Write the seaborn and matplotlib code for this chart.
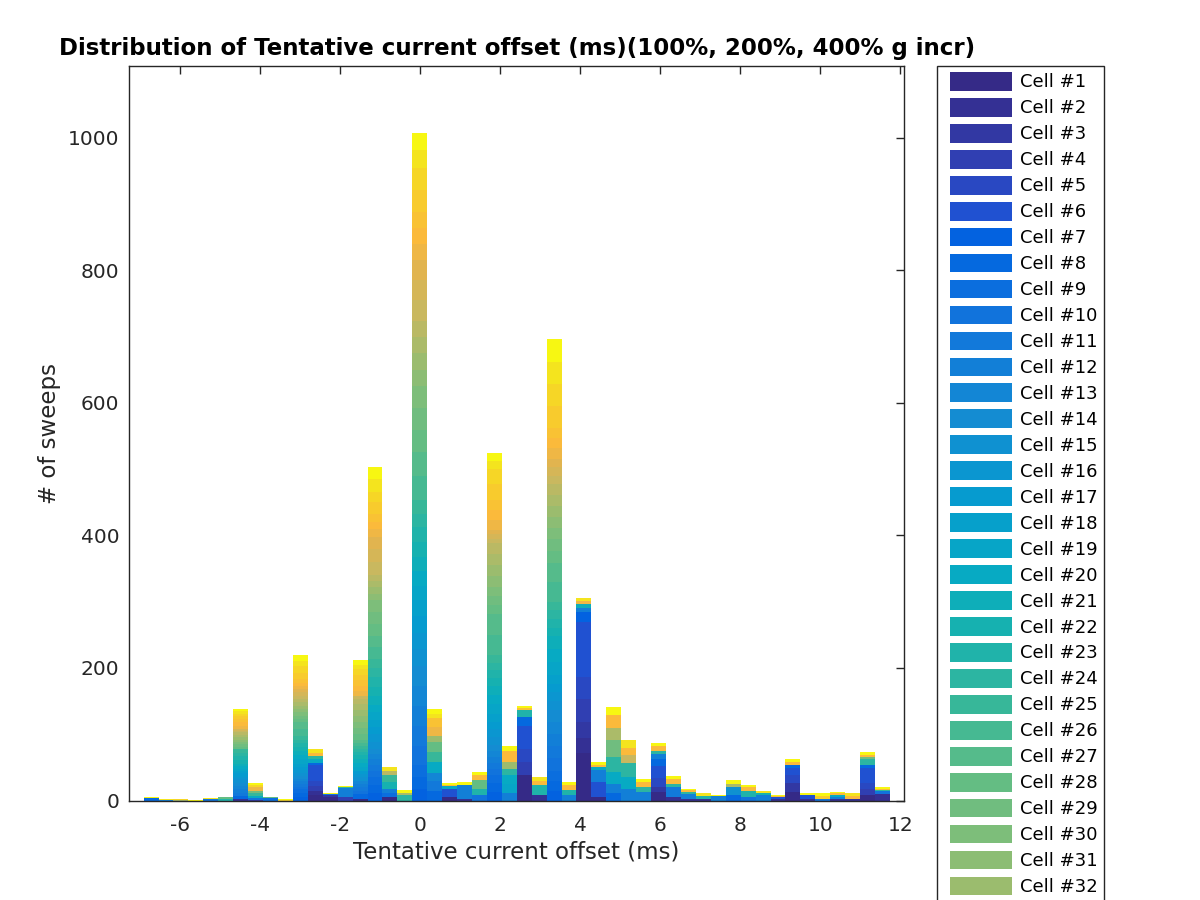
# Stacked histogram of tentative current offsets, one colour per cell
import numpy as np
import pandas as pd
import matplotlib
matplotlib.use("Agg")
import matplotlib.pyplot as plt
from matplotlib.colors import LinearSegmentedColormap
from matplotlib.patches import Patch, Rectangle
import seaborn as sns

n_cells = 44
n_legend = 32          # entries that fit inside the figure
bin_width = 0.3731
first_edge = -6.9166

bin_centers = [-6.730, -6.357, -5.984, -5.611, -5.238, -4.864, -4.491, -4.118, -3.745, -3.372,
               -2.999, -2.626, -2.253, -1.880, -1.507, -1.133, -0.760, -0.387, -0.014, 0.359,
               0.732, 1.105, 1.478, 1.851, 2.224, 2.598, 2.971, 3.344, 3.717, 4.090,
               4.463, 4.836, 5.209, 5.582, 5.955, 6.329, 6.702, 7.075, 7.448, 7.821,
               8.194, 8.567, 8.940, 9.313, 9.686, 10.060, 10.433, 10.806, 11.179, 11.552]

# sweeps per cell in each bin, {cell number: count}
cell_counts = [
    {8: 4, 44: 1},
    {12: 1, 43: 1},
    {33: 1, 42: 1},
    {44: 1},
    {10: 3, 43: 1},
    {23: 3, 28: 2, 44: 1},
    {2: 3, 8: 4, 11: 5, 12: 5, 13: 5, 14: 5, 15: 5, 16: 4, 17: 5, 18: 4, 19: 3, 20: 4, 21: 3,
     22: 6, 23: 6, 24: 5, 25: 6, 28: 3, 29: 4, 30: 3, 31: 4, 32: 4, 33: 3, 34: 4, 35: 2, 36: 3,
     38: 5, 39: 5, 40: 5, 41: 4, 42: 4, 43: 4, 44: 3},
    {3: 1, 10: 3, 20: 3, 25: 4, 29: 3, 38: 6, 42: 4, 44: 3},
    {9: 4, 28: 1, 44: 1},
    {42: 1, 44: 1},
    {7: 6, 8: 5, 9: 6, 10: 4, 11: 4, 12: 4, 13: 4, 14: 4, 15: 5, 16: 4, 17: 5, 18: 4, 19: 7,
     20: 7, 21: 6, 22: 6, 23: 6, 24: 5, 25: 6, 26: 10, 27: 10, 28: 5, 29: 5, 30: 5, 31: 5,
     32: 5, 33: 5, 34: 5, 35: 5, 36: 5, 37: 5, 38: 5, 39: 5, 40: 5, 41: 10, 42: 10, 43: 8, 44: 8},
    {1: 8, 2: 6, 4: 8, 5: 7, 6: 25, 8: 3, 20: 5, 24: 5, 39: 5, 43: 5},
    {1: 5, 3: 4, 10: 1, 44: 2},
    {4: 5, 12: 14, 24: 2, 44: 1},
    {1: 2, 8: 8, 10: 5, 11: 5, 12: 5, 13: 5, 15: 5, 16: 5, 17: 5, 19: 6, 20: 6, 21: 6, 22: 5,
     23: 5, 24: 5, 25: 4, 26: 5, 27: 5, 28: 9, 29: 9, 30: 8, 31: 9, 32: 9, 33: 9, 34: 8, 35: 4,
     38: 8, 39: 8, 40: 9, 41: 8, 42: 8, 43: 7, 44: 7},
    {7: 12, 8: 12, 9: 11, 10: 9, 11: 9, 12: 9, 13: 8, 14: 8, 15: 11, 16: 11, 17: 11, 18: 11,
     19: 11, 20: 11, 21: 14, 22: 14, 23: 14, 24: 14, 25: 13, 26: 18, 27: 18, 28: 18, 29: 18,
     30: 17, 31: 10, 32: 10, 33: 10, 34: 9, 35: 19, 36: 19, 37: 18, 38: 12, 39: 12, 40: 12,
     41: 17, 42: 16, 43: 19, 44: 18},
    {1: 5, 9: 7, 12: 6, 22: 10, 25: 10, 34: 6, 43: 6},
    {24: 8, 33: 3, 44: 5},
    {7: 18, 8: 18, 9: 17, 10: 30, 11: 30, 12: 30, 13: 30, 14: 30, 15: 25, 16: 25, 17: 25,
     18: 24, 19: 22, 20: 22, 21: 22, 22: 22, 23: 22, 24: 21, 25: 21, 26: 36, 27: 36, 28: 33,
     29: 33, 30: 33, 31: 25, 32: 25, 33: 25, 34: 24, 35: 31, 36: 31, 37: 30, 38: 24, 39: 24,
     40: 24, 41: 33, 42: 33, 43: 27, 44: 27},
    {8: 15, 11: 14, 13: 13, 20: 16, 25: 15, 28: 15, 32: 10, 38: 13, 40: 13, 43: 7, 44: 7},
    {1: 5, 6: 13, 20: 4, 39: 2, 44: 2},
    {2: 3, 12: 20, 44: 5},
    {10: 8, 23: 10, 28: 13, 39: 8, 44: 4},
    {7: 13, 8: 13, 9: 12, 10: 10, 11: 9, 12: 9, 13: 9, 14: 9, 15: 12, 16: 12, 17: 11, 18: 11,
     19: 15, 20: 14, 21: 14, 22: 12, 23: 12, 24: 11, 25: 11, 26: 31, 27: 31, 28: 14, 29: 14,
     30: 13, 31: 17, 32: 17, 33: 16, 34: 16, 35: 7, 36: 7, 37: 6, 38: 16, 39: 15, 40: 15,
     41: 23, 42: 23, 43: 13, 44: 12},
    {12: 12, 19: 13, 20: 13, 24: 10, 32: 10, 39: 16, 44: 8},
    {1: 38, 4: 20, 5: 19, 6: 36, 8: 13, 23: 10, 40: 4, 44: 3},
    {2: 8, 23: 15, 39: 7, 43: 6},
    {7: 15, 8: 15, 9: 15, 10: 19, 11: 19, 12: 18, 13: 18, 14: 18, 15: 13, 16: 13, 17: 13,
     18: 13, 19: 20, 20: 20, 21: 19, 22: 13, 23: 13, 24: 13, 25: 13, 26: 30, 27: 29, 28: 18,
     29: 17, 30: 17, 31: 17, 32: 17, 33: 16, 34: 16, 35: 13, 36: 13, 37: 13, 38: 16, 39: 15,
     40: 15, 41: 33, 42: 33, 43: 34, 44: 34},
    {12: 8, 23: 8, 39: 8, 44: 4},
    {1: 71, 2: 23, 3: 25, 4: 34, 5: 34, 6: 83, 7: 14, 12: 7, 21: 5, 38: 5, 43: 4},
    {1: 5, 6: 23, 12: 18, 20: 4, 39: 4, 44: 4},
    {8: 11, 12: 14, 20: 18, 24: 23, 29: 25, 33: 18, 39: 20, 44: 12},
    {12: 18, 20: 18, 24: 20, 35: 13, 39: 10, 43: 13},
    {12: 13, 24: 8, 39: 7, 44: 4},
    {1: 13, 3: 8, 5: 13, 6: 18, 8: 10, 12: 8, 24: 5, 39: 8, 44: 4},
    {2: 5, 11: 15, 24: 5, 39: 8, 44: 4},
    {2: 2, 12: 8, 24: 3, 39: 3, 44: 2},
    {2: 2, 23: 5, 43: 5},
    {12: 7, 44: 2},
    {8: 8, 15: 12, 33: 5, 44: 6},
    {10: 6, 23: 8, 39: 6, 44: 4},
    {12: 9, 22: 2, 43: 4},
    {2: 3, 6: 2, 39: 2, 44: 2},
    {1: 13, 3: 13, 5: 13, 6: 10, 8: 4, 24: 1, 39: 4, 44: 4},
    {2: 2, 6: 6, 44: 4},
    {10: 2, 41: 5, 44: 5},
    {2: 2, 12: 4, 20: 2, 39: 3, 44: 2},
    {2: 3, 39: 4, 43: 4},
    {1: 8, 4: 9, 5: 9, 6: 23, 8: 5, 24: 8, 29: 3, 39: 4, 44: 4},
    {2: 10, 10: 4, 24: 2, 39: 2, 44: 2},
]

# parula-like colours picked from the legend / bars
anchor_cells = [1, 4, 6, 7, 10, 14, 17, 20, 22, 25, 28, 30, 32, 35, 37, 39, 41, 43, 44]
anchor_colors = ["#352a87", "#3040b4", "#1f52d3", "#0064e1", "#1173dc", "#148cd2", "#069bcf",
                 "#07aac3", "#15b1b1", "#38b799", "#64bd83", "#7dbe7a", "#9bbc6e", "#c8b860",
                 "#e0b450", "#fbb93c", "#f8c92e", "#f4e020", "#f7f712"]

rows = []
for x, counts in zip(bin_centers, cell_counts):
    for cell, n in counts.items():
        rows.append({"offset": x, "cell": f"Cell #{cell}", "sweeps": n})
df = pd.DataFrame(rows)

cell_names = [f"Cell #{i}" for i in range(1, n_cells + 1)]
cmap = LinearSegmentedColormap.from_list(
    "parula_like", list(zip([(c - 1) / (n_cells - 1) for c in anchor_cells], anchor_colors)))
palette = {name: cmap(i / (n_cells - 1)) for i, name in enumerate(cell_names)}

sns.set_style("white")
plt.rcParams["font.family"] = ["DejaVu Sans"]
plt.rcParams["axes.unicode_minus"] = False
dark = "#262626"

fig = plt.figure(figsize=(12, 9), dpi=100)
ax = fig.add_axes([129.3 / 1200, 99.5 / 900, 774.7 / 1200, 734.2 / 900])

edges = list(first_edge + bin_width * np.arange(len(bin_centers) + 1))
# seaborn puts the first hue level on top, so reverse to get Cell #1 at the bottom
sns.histplot(data=df, x="offset", weights="sweeps", hue="cell", hue_order=cell_names[::-1],
             palette=palette, bins=edges, multiple="stack", element="bars", alpha=1,
             linewidth=0, edgecolor="none", shrink=1, legend=False, ax=ax)

ax.set_xlim(-7.275, 12.09)
ax.set_ylim(0, 1108)
ax.set_xticks(range(-6, 13, 2))
ax.set_yticks(range(0, 1001, 200))
ax.tick_params(direction="in", top=True, right=True, length=6, width=1, colors=dark,
               labelsize=14.5, labelcolor=dark, pad=7)
ax.tick_params(axis="x", pad=11)
for s in ax.spines.values():
    s.set_color(dark)
    s.set_linewidth(1)
ax.set_xlabel("Tentative current offset (ms)", fontsize=16.5, color=dark, labelpad=4)
ax.set_ylabel("# of sweeps", fontsize=16.5, color=dark, labelpad=5)
ax.set_title("Distribution of Tentative current offset (ms)(100%, 200%, 400% g incr)",
             fontsize=16.5, fontweight="bold", color="black", pad=8)

# legend box runs off the bottom of the figure, as in the original
fig.add_artist(Rectangle((937 / 1200, -0.1), 167 / 1200, 0.1 + (900 - 66.5) / 900,
                         transform=fig.transFigure, facecolor="white", edgecolor=dark,
                         linewidth=1, zorder=1))
handles = [Patch(facecolor=palette[n], edgecolor="none") for n in cell_names[:n_legend]]
leg = fig.legend(handles, cell_names[:n_legend], loc="upper left",
                 bbox_to_anchor=(950 / 1200, 1 - 72 / 900), frameon=False, fontsize=13,
                 handlelength=3.43, handleheight=1.22, handletextpad=0.44, labelspacing=0.36,
                 borderpad=0, borderaxespad=0, labelcolor="black")
leg.set_zorder(2)

fig.savefig("out.png", dpi=100)
